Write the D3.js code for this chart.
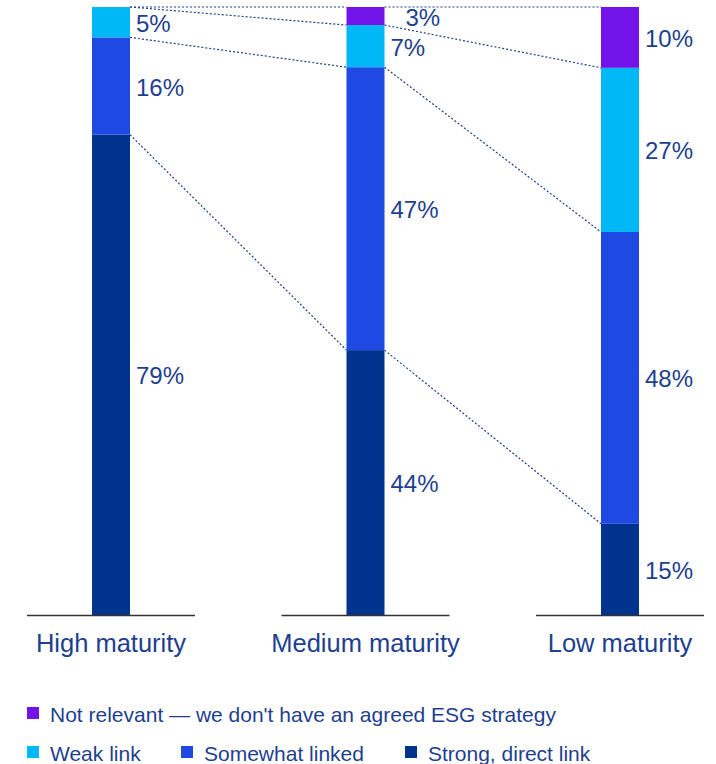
<!DOCTYPE html>
<html><head><meta charset="utf-8">
<script src="https://cdn.jsdelivr.net/npm/d3@7"></script>
<style>body{margin:0;background:#fff}svg{display:block}text{font-family:"Liberation Sans",Arial,sans-serif}</style>
</head><body>
<svg id="c" width="716" height="764"></svg>
<script>
const categories = ["High maturity", "Medium maturity", "Low maturity"];
const seriesNames = ["Strong, direct link", "Somewhat linked", "Weak link", "Not relevant — we don't have an agreed ESG strategy"];
const strong = [79, 44, 15];
const somewhat = [16, 47, 48];
const weak = [5, 7, 27];
const notRelevant = [0, 3, 10];
const colors = ["#00338D", "#1E49E2", "#00B8F5", "#7213EA"];
const textColor = "#1E3F8F";

const keys = ["strong", "somewhat", "weak", "notRelevant"];
const data = categories.map((c, i) => ({cat: c, strong: strong[i], somewhat: somewhat[i], weak: weak[i], notRelevant: notRelevant[i]}));
const stacked = d3.stack().keys(keys).offset(d3.stackOffsetExpand)(data);

const svg = d3.select("#c");
const x = d3.scalePoint().domain(categories).range([111, 620]);
const y = d3.scaleLinear().domain([0, 1]).range([615, 7]);
const barW = 38, baseHalf = 84;

// connectors
const conn = svg.append("g");
stacked.forEach(s => {
  for (let i = 0; i < categories.length - 1; i++) {
    conn.append("line")
      .attr("x1", x(categories[i]) + barW / 2).attr("y1", y(s[i][1]))
      .attr("x2", x(categories[i + 1]) - barW / 2).attr("y2", y(s[i + 1][1]))
      .attr("stroke", "#1E3F8F").attr("stroke-width", 1.2).attr("stroke-dasharray", "2,2");
  }
});

// bars
stacked.forEach((s, k) => {
  svg.append("g").selectAll("rect").data(s).join("rect")
    .attr("x", d => x(d.data.cat) - barW / 2)
    .attr("width", barW)
    .attr("y", d => y(d[1]))
    .attr("height", d => y(d[0]) - y(d[1]))
    .attr("fill", colors[k]);
});

// labels
stacked.forEach((s, k) => {
  svg.append("g").selectAll("text").data(s.filter(d => d.data[keys[k]] > 0)).join("text")
    .attr("x", d => x(d.data.cat) + barW / 2 + (d.data[keys[k]] < 4 ? 21 : 6))
    .attr("y", d => (y(d[0]) + y(d[1])) / 2 + 1)
    .attr("dominant-baseline", "central")
    .attr("font-size", 24).attr("fill", textColor)
    .text(d => d.data[keys[k]] + "%");
});

// baselines
svg.append("g").selectAll("line").data(categories).join("line")
  .attr("x1", d => x(d) - baseHalf).attr("x2", d => x(d) + baseHalf)
  .attr("y1", 615.5).attr("y2", 615.5)
  .attr("stroke", "#333").attr("stroke-width", 1.3);

// category labels
svg.append("g").selectAll("text").data(categories).join("text")
  .attr("x", d => x(d)).attr("y", 652)
  .attr("text-anchor", "middle").attr("font-size", 25.5).attr("fill", textColor)
  .text(d => d);

// legend
const legendItems = [
  {name: seriesNames[3], color: colors[3], x: 27, y: 713},
  {name: seriesNames[2], color: colors[2], x: 27, y: 752},
  {name: seriesNames[1], color: colors[1], x: 181, y: 752},
  {name: seriesNames[0], color: colors[0], x: 405, y: 752}
];
const lg = svg.append("g").selectAll("g").data(legendItems).join("g")
  .attr("transform", d => `translate(${d.x},${d.y})`);
lg.append("rect").attr("x", 0).attr("y", -6).attr("width", 12).attr("height", 12).attr("fill", d => d.color);
lg.append("text").attr("x", 23).attr("y", 1).attr("dominant-baseline", "central")
  .attr("font-size", 21).attr("fill", textColor).text(d => d.name);
</script>
</body></html>
